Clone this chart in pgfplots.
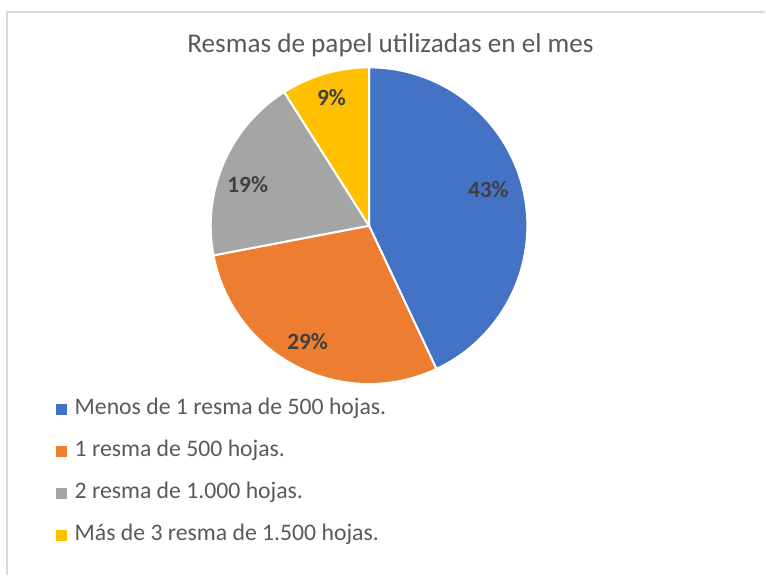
\documentclass[border=0pt]{standalone}
\usepackage{pgfplots}
\pgfplotsset{compat=1.18}
\usepackage{pgfplotstable}
\usepackage{fontspec}
\setmainfont{Carlito}

\definecolor{pblue}{HTML}{4472C4}
\definecolor{porange}{HTML}{ED7D31}
\definecolor{pgray}{HTML}{A5A5A5}
\definecolor{pyellow}{HTML}{FFC000}
\definecolor{txt}{HTML}{595959}
\definecolor{lbl}{HTML}{404040}
\definecolor{frame}{HTML}{D9D9D9}

% share of each answer, in percent
\pgfplotstableread{
value
43
29
19
9
}\piedata

\pgfplotsset{
  sqlegend/.style={legend image code/.code={
      \fill[##1] (0pt,-3.75pt) rectangle (7.5pt,3.75pt);}},
}

\begin{document}
\begin{tikzpicture}
\begin{axis}[
    width=574.5pt, height=432pt, scale only axis,
    xmin=0, xmax=766, ymin=0, ymax=576, y dir=reverse,
    hide axis, clip=false,
    legend cell align=left,
    legend style={at={(axis cs:52,472.5)}, anchor=west, draw=none, fill=none,
      font=\fontsize{17.8}{20}\selectfont\color{txt},
      row sep=15.5pt,
      nodes={inner sep=0pt, text height=12.5pt, text depth=3.5pt},
      /tikz/every odd column/.append style={column sep=6pt}},
]
\path (axis cs:0,0) rectangle (axis cs:766,576);
\draw[frame, line width=1.5pt] (axis cs:766,12) -- (axis cs:7,12) -- (axis cs:7,576);

\addlegendimage{sqlegend, pblue}
\addlegendentry{Menos de 1 resma de 500 hojas.}
\addlegendimage{sqlegend, porange}
\addlegendentry{1 resma de 500 hojas.}
\addlegendimage{sqlegend, pgray}
\addlegendentry{2 resma de 1.000 hojas.}
\addlegendimage{sqlegend, pyellow}
\addlegendentry{Más de 3 resma de 1.500 hojas.}

\pgfplotsextra{
  \def\R{118.9pt}
  \gdef\acc{0}
  \foreach \i/\c in {0/pblue,1/porange,2/pgray,3/pyellow} {
    \pgfplotstablegetelem{\i}{value}\of\piedata
    \pgfmathsetmacro\a{90-3.6*\acc}
    \pgfmathsetmacro\b{90-3.6*(\acc+\pgfplotsretval)}
    \fill[\c, draw=white, line width=1.5pt, line join=round]
      (axis cs:369.5,226) -- ++(\a:\R) arc[start angle=\a, end angle=\b, radius=\R] -- cycle;
    \pgfmathsetmacro\n{\acc+\pgfplotsretval}
    \xdef\acc{\n}
  }
  \node[txt, font=\fontsize{20.4}{23}\selectfont] at (axis cs:391,45) {Resmas de papel utilizadas en el mes};
  \begin{scope}[every node/.style={lbl, font=\fontsize{17.5}{20}\selectfont\bfseries}]
    \node at (axis cs:489,190) {43\%};
    \node at (axis cs:308,342) {29\%};
    \node at (axis cs:248,185) {19\%};
    \node at (axis cs:332,98) {9\%};
  \end{scope}
}
\end{axis}
\end{tikzpicture}
\end{document}
